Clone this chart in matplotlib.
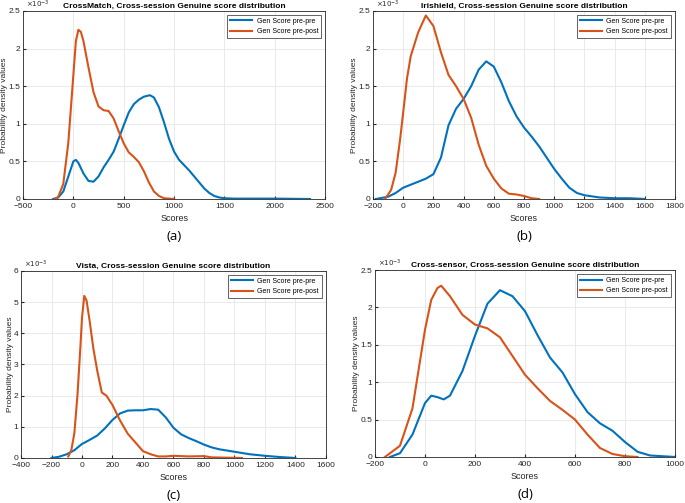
import numpy as np
import matplotlib.pyplot as plt

plt.rcParams['font.family'] = ['Liberation Sans', 'DejaVu Sans']

# density values are in units of 1e-3
# (a) CrossMatch
a_pp_x = [-200, -150, -100, -50, 0, 25, 50, 100, 150, 200, 250, 300, 350, 400, 450, 500, 550, 600, 650, 700,
          760, 800, 850, 900, 950, 1000, 1050, 1100, 1150, 1200, 1250, 1300, 1350, 1400, 1450, 1500, 1600, 2000, 2350]
a_pp_y = [0, 0.02, 0.1, 0.3, 0.5, 0.52, 0.48, 0.34, 0.24, 0.23, 0.3, 0.42, 0.52, 0.63, 0.8, 0.98, 1.15, 1.26, 1.32, 1.36,
          1.38, 1.35, 1.22, 1.02, 0.8, 0.63, 0.52, 0.45, 0.38, 0.3, 0.22, 0.14, 0.08, 0.04, 0.02, 0.01, 0.005, 0.005, 0.0]
a_pq_x = [-180, -150, -100, -50, 0, 25, 50, 75, 100, 150, 200, 250, 300, 350, 400, 450, 500, 550, 600, 650,
          700, 750, 800, 850, 900, 1000]
a_pq_y = [0, 0.03, 0.2, 0.75, 1.65, 2.1, 2.25, 2.22, 2.1, 1.75, 1.42, 1.23, 1.18, 1.17, 1.07, 0.9, 0.74, 0.62, 0.56, 0.49,
          0.37, 0.22, 0.1, 0.04, 0.01, 0]

# (b) Irishield
b_pp_x = [-180, -100, -50, 0, 50, 100, 150, 200, 250, 300, 350, 400, 450, 500, 550, 600, 650, 700, 750, 800,
          850, 900, 950, 1000, 1050, 1100, 1150, 1200, 1300, 1400, 1500, 1600]
b_pp_y = [0, 0.03, 0.08, 0.15, 0.19, 0.23, 0.27, 0.33, 0.55, 0.98, 1.2, 1.33, 1.5, 1.72, 1.83, 1.76, 1.55, 1.3, 1.1, 0.95,
          0.83, 0.7, 0.55, 0.4, 0.27, 0.15, 0.08, 0.05, 0.02, 0.01, 0.01, 0]
b_pq_x = [-120, -80, -50, -20, 0, 25, 50, 100, 150, 200, 250, 300, 350, 400, 450, 500, 550, 600, 650, 700,
          750, 800, 850, 900]
b_pq_y = [0, 0.12, 0.35, 0.8, 1.15, 1.6, 1.9, 2.22, 2.44, 2.3, 1.95, 1.65, 1.5, 1.33, 1.08, 0.72, 0.44, 0.27, 0.14, 0.07,
          0.06, 0.04, 0.01, 0]

# (c) Vista
c_pp_x = [-200, -150, -100, -50, 0, 50, 100, 150, 200, 250, 300, 350, 400, 450, 500, 550, 600, 650, 700, 750,
          800, 850, 900, 1000, 1100, 1200, 1300, 1400]
c_pp_y = [0, 0.04, 0.12, 0.25, 0.45, 0.58, 0.72, 0.95, 1.22, 1.43, 1.52, 1.53, 1.53, 1.57, 1.55, 1.3, 0.97, 0.76, 0.64, 0.54,
          0.43, 0.34, 0.28, 0.2, 0.12, 0.07, 0.03, 0]
c_pq_x = [-90, -70, -50, -30, -10, 0, 15, 30, 50, 75, 100, 130, 160, 200, 250, 300, 350, 400, 450, 500,
          550, 600, 700, 800, 850, 1050]
c_pq_y = [0.05, 0.25, 0.8, 2.0, 3.6, 4.5, 5.2, 5.05, 4.4, 3.5, 2.8, 2.1, 2.0, 1.7, 1.2, 0.78, 0.5, 0.22, 0.12, 0.05,
          0.05, 0.07, 0.05, 0.06, 0.02, 0]

# (d) Cross-sensor
d_pp_x = [-140, -100, -50, 0, 25, 50, 75, 100, 150, 200, 250, 300, 350, 400, 450, 500, 550, 600, 650, 700,
          750, 800, 850, 900, 1000]
d_pp_y = [0, 0.05, 0.3, 0.72, 0.82, 0.8, 0.77, 0.82, 1.15, 1.62, 2.05, 2.23, 2.15, 1.95, 1.63, 1.33, 1.13, 0.84, 0.6, 0.45,
          0.35, 0.2, 0.07, 0.02, 0]
d_pq_x = [-160, -100, -50, 0, 25, 50, 65, 100, 150, 200, 250, 300, 350, 400, 450, 500, 550, 600, 650, 700,
          750, 800, 850]
d_pq_y = [0, 0.15, 0.65, 1.7, 2.1, 2.26, 2.29, 2.15, 1.9, 1.77, 1.72, 1.6, 1.35, 1.1, 0.92, 0.75, 0.63, 0.5, 0.3, 0.12,
          0.04, 0.01, 0]

titles = ['CrossMatch, Cross-session Genuine score distribution',
          'Irishield, Cross-session Genuine score distribution',
          'Vista, Cross-session Genuine score distribution',
          'Cross-sensor, Cross-session Genuine score distribution']
letters = ['(a)', '(b)', '(c)', '(d)']
xticks = [np.arange(-500, 2501, 500), np.arange(-200, 1801, 200),
          np.arange(-400, 1601, 200), np.arange(-200, 1001, 200)]
yticks = [[0, 0.5, 1, 1.5, 2, 2.5], [0, 0.5, 1, 1.5, 2, 2.5],
          [0, 1, 2, 3, 4, 5, 6], [0, 0.5, 1, 1.5, 2, 2.5]]
series = [(a_pp_x, a_pp_y, a_pq_x, a_pq_y), (b_pp_x, b_pp_y, b_pq_x, b_pq_y),
          (c_pp_x, c_pp_y, c_pq_x, c_pq_y), (d_pp_x, d_pp_y, d_pq_x, d_pq_y)]

# axes boxes in figure fraction
boxes = [[0.0336, 0.6044, 0.441, 0.3738], [0.5445, 0.6044, 0.441, 0.3738],
         [0.0307, 0.0895, 0.445, 0.3718], [0.5474, 0.0915, 0.438, 0.3717]]

blue = '#0072BD'
orange = '#D95319'
axc = '#262626'

fig = plt.figure(figsize=(6.85, 5.03), dpi=100)
for i in range(4):
    ax = fig.add_axes(boxes[i])
    px, py, qx, qy = series[i]
    ax.plot(px, py, color=blue, lw=1.5, label='Gen Score pre-pre')
    ax.plot(qx, qy, color=orange, lw=1.5, label='Gen Score pre-post')
    ax.set_xlim(xticks[i][0], xticks[i][-1])
    ax.set_ylim(yticks[i][0], yticks[i][-1])
    ax.set_xticks(xticks[i])
    ax.set_yticks(yticks[i])
    ax.set_yticklabels([('%g' % v) for v in yticks[i]])
    ax.tick_params(direction='in', labelsize=6, length=2.5, colors=axc, pad=3)
    ax.tick_params(axis='y', pad=2)
    ax.grid(True, color='#e6e6e6', lw=0.6)
    ax.set_axisbelow(True)
    for s in ax.spines.values():
        s.set_color(axc)
        s.set_linewidth(0.6)
    ax.set_title(titles[i], fontsize=6, fontweight='bold', pad=2)
    ax.set_xlabel('Scores', fontsize=6.5, labelpad=3, color=axc)
    ax.set_ylabel('Probability density values', fontsize=6, labelpad=0, color=axc)
    ax.text(0.01, 1.005, r'$\times10^{-3}$', transform=ax.transAxes, fontsize=5,
            color=axc, ha='left', va='bottom')
    leg = ax.legend(loc='upper right', fontsize=5, fancybox=False, framealpha=1,
                    edgecolor=axc, handlelength=3.2, borderaxespad=0.6, handletextpad=0.6)
    leg.get_frame().set_linewidth(0.5)
    b = boxes[i]
    fig.text(b[0] + b[2] / 2, b[1] - 0.062, letters[i], fontsize=9.5, ha='center', va='top',
             family=['Open Sans', 'DejaVu Sans'])

fig.savefig('out.png', dpi=100)
